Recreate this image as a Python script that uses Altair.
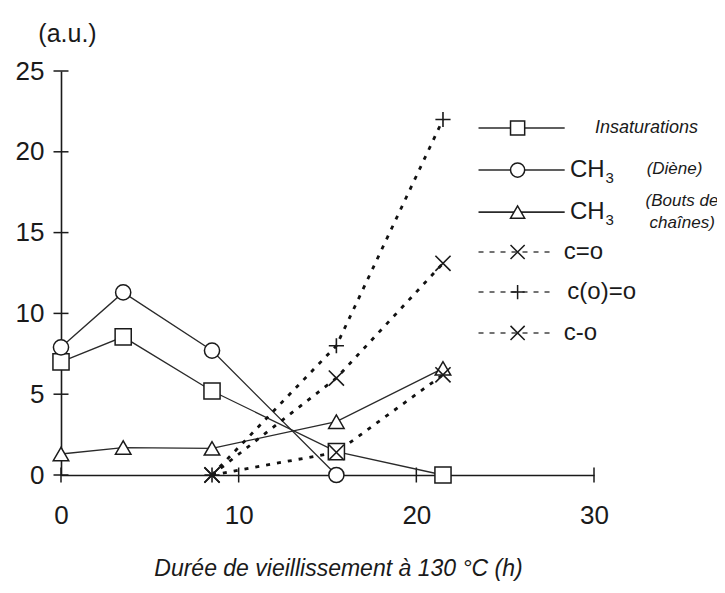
import altair as alt
import pandas as pd

# ---------------- data ----------------
hours = [0, 3.5, 8.5, 15.5, 21.5]
insaturations = [7.0, 8.55, 5.2, 1.45, 0.0]
ch3_diene_x = [0, 3.5, 8.5, 15.5]
ch3_diene = [7.9, 11.3, 7.7, 0.0]
ch3_bouts = [1.3, 1.7, 1.65, 3.3, 6.6]
ox_x = [8.5, 15.5, 21.5]
c_eq_o = [0.0, 6.0, 13.1]
c_o_eq_o = [0.0, 8.0, 22.0]
c_single_o = [0.0, 1.4, 6.2]

x_ticks = [0, 10, 20, 30]
y_ticks = [0, 5, 10, 15, 20, 25]

FONT = "Liberation Sans"
INK = "#1a1a1a"

XS = alt.Scale(domain=[0, 30], nice=False, zero=False)
YS = alt.Scale(domain=[0, 25], nice=False, zero=False)

X_AXIS = alt.Axis(
    values=x_ticks, ticks=False, grid=False, domain=True, labelFlush=False,
    domainColor=INK, domainWidth=1.6, labelFont=FONT, labelFontSize=26,
    labelColor=INK, labelPadding=27,
    title="Durée de vieillissement à 130 °C (h)", titleFont=FONT,
    titleFontSize=23, titleFontStyle="italic", titleFontWeight="normal",
    titleColor=INK, titleX=277, titleY=100, titleBaseline="alphabetic",
    titleAlign="center")
Y_AXIS = alt.Axis(
    values=y_ticks, ticks=False, grid=False, domain=True, labelFlush=False,
    domainColor=INK, domainWidth=1.6, labelFont=FONT, labelFontSize=26,
    labelColor=INK, labelPadding=17,
    title="(a.u.)", titleFont=FONT, titleFontSize=25,
    titleFontWeight="normal", titleColor=INK, titleAngle=0,
    titleX=6, titleY=-30, titleAlign="center", titleBaseline="alphabetic")

X_PATH = "M-1,-1L1,1M-1,1L1,-1"
PLUS_PATH = "M-1,0L1,0M0,-1L0,1"

series = [
    ("Insaturations", hours, insaturations, "solid", "square", 260),
    ("CH3 (Diène)", ch3_diene_x, ch3_diene, "solid", "circle", 230),
    ("CH3 (Bouts de chaînes)", hours, ch3_bouts, "solid", "triangle-up", 240),
    ("c=o", ox_x, c_eq_o, "dot", X_PATH, 230),
    ("c(o)=o", ox_x, c_o_eq_o, "dot", PLUS_PATH, 230),
    ("c-o", ox_x, c_single_o, "dot", X_PATH, 230),
]

def xenc(field="x"):
    return alt.X(f"{field}:Q", scale=XS, axis=X_AXIS)

def yenc(field="y"):
    return alt.Y(f"{field}:Q", scale=YS, axis=Y_AXIS)

layers = []

# crossing tick marks
ytick_df = pd.DataFrame({"x": [0] * len(y_ticks), "y": y_ticks})
xtick_df = pd.DataFrame({"x": x_ticks, "y": [0] * len(x_ticks)})
layers.append(alt.Chart(ytick_df).mark_tick(orient="horizontal", size=15, thickness=1.5, color=INK, opacity=1).encode(x=xenc(), y=yenc()))
layers.append(alt.Chart(xtick_df).mark_tick(orient="vertical", size=15, thickness=1.5, color=INK, opacity=1).encode(x=xenc(), y=yenc()))

# series lines
for name, xs, ys, style, shape, size in series:
    df = pd.DataFrame({"x": xs, "y": ys, "s": name})
    if style == "solid":
        ln = alt.Chart(df).mark_line(color="#2a2a2a", strokeWidth=1.3)
    else:
        ln = alt.Chart(df).mark_line(color="#111", strokeWidth=2.8, strokeDash=[4, 7])
    layers.append(ln.encode(x=xenc(), y=yenc()))

# series markers
for name, xs, ys, style, shape, size in series:
    df = pd.DataFrame({"x": xs, "y": ys, "s": name})
    if style == "solid":
        mk = alt.Chart(df).mark_point(shape=shape, size=size, fill="white", fillOpacity=1,
                                      stroke=INK, strokeWidth=1.5, opacity=1)
    else:
        mk = alt.Chart(df).mark_point(shape=shape, size=size, filled=False,
                                      stroke=INK, strokeWidth=1.6, opacity=1)
    layers.append(mk.encode(x=xenc(), y=yenc()))

# ---------------- legend (layout in data units) ----------------
leg_rows_y = [21.47, 18.87, 16.27, 13.80, 11.32, 8.79]
leg_x1, leg_x2, leg_xm = 23.5, 28.35, 25.7
styles = [s[3] for s in series]
shapes = [s[4] for s in series]

solid_df = pd.DataFrame({"x": [leg_x1] * 3, "x2": [leg_x2] * 3, "y": leg_rows_y[:3]})
dash_df = pd.DataFrame({"x": [leg_x1] * 3, "x2": [27.6] * 3, "y": leg_rows_y[3:]})
layers.append(alt.Chart(solid_df).mark_rule(color="#2a2a2a", strokeWidth=1.6).encode(
    x=xenc(), x2="x2:Q", y=yenc()))
layers.append(alt.Chart(dash_df).mark_rule(color="#444", strokeWidth=1.4, strokeDash=[5, 6]).encode(
    x=xenc(), x2="x2:Q", y=yenc()))
for i, (st, sh) in enumerate(zip(styles, shapes)):
    d = pd.DataFrame({"x": [leg_xm], "y": [leg_rows_y[i]]})
    if st == "solid":
        mk = alt.Chart(d).mark_point(shape=sh, size=200, fill="white", fillOpacity=1, stroke=INK, strokeWidth=1.5, opacity=1)
    else:
        mk = alt.Chart(d).mark_point(shape=sh, size=200, filled=False, stroke=INK, strokeWidth=1.5, opacity=1)
    layers.append(mk.encode(x=xenc(), y=yenc()))

leg_text = pd.DataFrame({
    "x": [30.05, 28.65, 28.65, 28.3, 28.5, 28.3],
    "y": leg_rows_y,
    "t": ["Insaturations", "CH", "CH", "c=o", "c(o)=o", "c-o"],
    "italic": [True, False, False, False, False, False],
})
layers.append(alt.Chart(leg_text[leg_text.italic]).mark_text(
    align="left", baseline="middle", font=FONT, fontSize=18, fontStyle="italic", color=INK).encode(
    x=xenc(), y=yenc(), text="t:N"))
layers.append(alt.Chart(leg_text[~leg_text.italic]).mark_text(
    align="left", baseline="middle", font=FONT, fontSize=24, color=INK).encode(
    x=xenc(), y=yenc(), text="t:N"))
sub_df = pd.DataFrame({"x": [30.65, 30.65], "y": [leg_rows_y[1] - 0.5, leg_rows_y[2] - 0.5], "t": ["3", "3"]})
layers.append(alt.Chart(sub_df).mark_text(align="left", baseline="middle", font=FONT, fontSize=15, color=INK).encode(
    x=xenc(), y=yenc(), text="t:N"))

note_df = pd.DataFrame({
    "x": [36.1, 37.0, 36.8],
    "y": [18.95, 16.95, 15.6],
    "t": ["(Diène)", "(Bouts de", "chaînes)"],
})
layers.append(alt.Chart(note_df).mark_text(align="right", baseline="middle", font=FONT, fontSize=17,
                                           fontStyle="italic", color=INK).encode(
    x=xenc(), y=yenc(), text="t:N"))

chart = alt.layer(*layers).properties(
    width=533, height=404,
    autosize=alt.AutoSizeParams(type="none"),
    padding={"left": 53, "top": 63, "right": 123, "bottom": 110},
).configure(background="white").configure_view(stroke=None)

chart.save("out.html", embed_options={"renderer": "svg", "actions": False})
